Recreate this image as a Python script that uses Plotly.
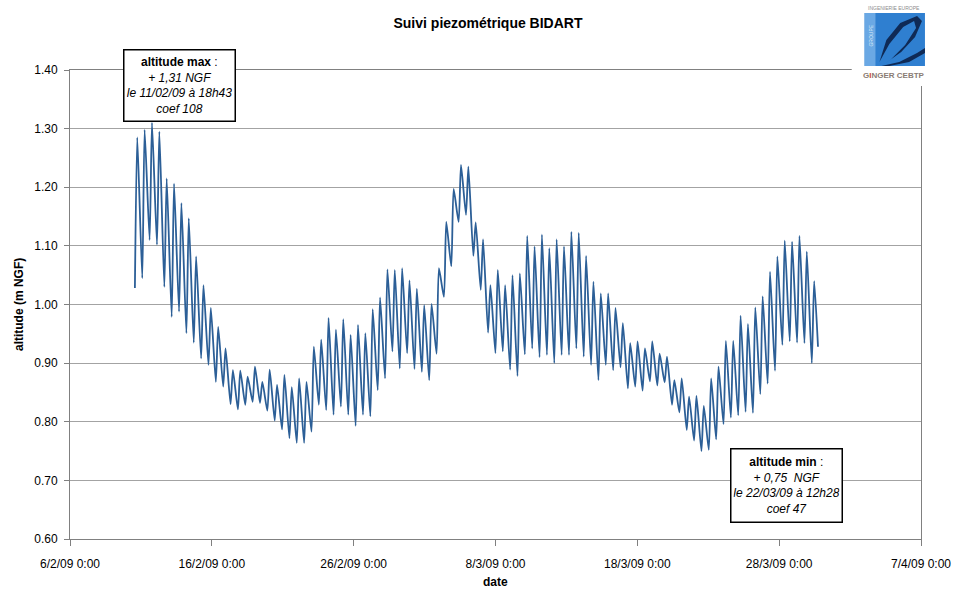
import datetime as dt
import plotly.graph_objects as go

# ---------------------------------------------------------------------------
# Piezometric record, Bidart (m NGF). One high and one low per tidal cycle.
# ---------------------------------------------------------------------------
highs = [
    1.285, 1.298, 1.310, 1.295, 1.215, 1.206, 1.173, 1.147, 1.082, 1.033,
    0.994, 0.962, 0.925, 0.888, 0.887, 0.877, 0.894, 0.868, 0.889, 0.863,
    0.880, 0.859, 0.874, 0.868, 0.928, 0.940, 0.977, 0.957, 0.975, 0.948,
    0.965, 0.951, 0.992, 1.012, 1.060, 1.059, 1.062, 1.041, 1.027, 0.999,
    1.001, 1.062, 1.141, 1.197, 1.238, 1.235, 1.140, 1.111, 1.033, 1.059,
    1.033, 1.050, 1.053, 1.117, 1.099, 1.119, 1.096, 1.111, 1.099, 1.124,
    1.122, 1.083, 1.039, 1.019, 1.019, 0.994, 0.968, 0.934, 0.937, 0.925,
    0.937, 0.916, 0.911, 0.871, 0.874, 0.843, 0.844, 0.827, 0.874, 0.894,
    0.938, 0.938, 0.981, 0.967, 0.995, 1.014, 1.056, 1.082, 1.109, 1.107,
    1.117, 1.090, 1.040,
]
# low preceding each high
lows = [
    1.028, 1.045, 1.110, 1.102, 1.030, 0.979, 0.988, 0.951, 0.935, 0.908,
    0.897, 0.868, 0.860, 0.830, 0.821, 0.829, 0.834, 0.832, 0.819, 0.802,
    0.787, 0.772, 0.764, 0.764, 0.783, 0.829, 0.820, 0.812, 0.826, 0.812,
    0.793, 0.812, 0.809, 0.854, 0.874, 0.920, 0.891, 0.917, 0.890, 0.885,
    0.871, 0.916, 1.013, 1.065, 1.141, 1.153, 1.083, 1.025, 0.952, 0.917,
    0.920, 0.889, 0.878, 0.915, 0.925, 0.910, 0.914, 0.900, 0.914, 0.914,
    0.925, 0.911, 0.897, 0.871, 0.897, 0.888, 0.893, 0.857, 0.860, 0.853,
    0.869, 0.862, 0.867, 0.829, 0.816, 0.786, 0.768, 0.750, 0.752, 0.770,
    0.796, 0.807, 0.811, 0.817, 0.815, 0.847, 0.865, 0.887, 0.931, 0.937,
    0.935, 0.934, 0.900,
]
last_value = 0.928

# timing of the cycles (anchored on the recorded maximum, cycle no. 2)
max_time = dt.datetime(2009, 2, 11, 18, 43)
max_cycle = 2
tide_period = dt.timedelta(hours=12.45)
rise_time = dt.timedelta(hours=4.0)
tail_time = dt.timedelta(hours=6.5)

x_ticks = [dt.datetime(2009, 2, 6), dt.datetime(2009, 2, 16), dt.datetime(2009, 2, 26),
           dt.datetime(2009, 3, 8), dt.datetime(2009, 3, 18), dt.datetime(2009, 3, 28),
           dt.datetime(2009, 4, 7)]
x_tick_text = ["6/2/09 0:00", "16/2/09 0:00", "26/2/09 0:00", "8/3/09 0:00",
               "18/3/09 0:00", "28/3/09 0:00", "7/4/09 0:00"]
y_ticks = [0.60, 0.70, 0.80, 0.90, 1.00, 1.10, 1.20, 1.30, 1.40]

# build the series: low then high for each cycle
times, levels = [], []
for i, (lo, hi) in enumerate(zip(lows, highs)):
    t_high = max_time + (i - max_cycle) * tide_period
    times += [t_high - rise_time, t_high]
    levels += [lo, hi]
times.append(times[-1] + tail_time)
levels.append(last_value)

W, H = 963, 589
L, R, T, B = 70, 33, 70, 50
PW, PH = W - L - R, H - T - B
FONT = "Arial, Liberation Sans, sans-serif"


def px(xp):
    return (xp - L) / PW


def py(yp):
    return (H - B - yp) / PH


fig = go.Figure()
fig.add_trace(go.Scatter(
    x=times, y=levels, mode="lines",
    line=dict(color="#2c5f97", width=1.8, shape="spline", smoothing=0.6),
    showlegend=False, hoverinfo="x+y",
))

fig.update_layout(
    width=W, height=H, autosize=False,
    margin=dict(l=L, r=R, t=T, b=B),
    paper_bgcolor="white", plot_bgcolor="white",
    font=dict(family=FONT, size=12, color="black"),
    title=dict(text="<b>Suivi piezométrique BIDART</b>", font=dict(size=14),
               x=488 / W, xref="container", xanchor="center",
               y=1 - 23 / H, yref="container", yanchor="middle"),
)
fig.update_xaxes(
    type="date", range=[x_ticks[0], x_ticks[-1]],
    tickmode="array", tickvals=x_ticks, ticktext=x_tick_text,
    showgrid=False, zeroline=False,
    showline=True, linecolor="#808080", linewidth=1, mirror=True,
    ticks="outside", ticklen=6, tickcolor="#808080",
    ticklabelstandoff=8, tickfont=dict(size=12),
)
fig.update_yaxes(
    range=[y_ticks[0], y_ticks[-1]], tickmode="array", tickvals=y_ticks,
    tickformat=".2f",
    showgrid=True, gridcolor="#a3a3a3", gridwidth=1, zeroline=False,
    showline=True, linecolor="#808080", linewidth=1, mirror=True,
    ticks="outside", ticklen=5, tickcolor="#808080",
    ticklabelstandoff=4, tickfont=dict(size=12),
)

annotations = [
    dict(text="<b>altitude (m NGF)</b>", x=px(18), y=0.5, textangle=-90,
         font=dict(size=12)),
    dict(text="<b>date</b>", x=0.5, y=py(582), font=dict(size=12)),
    dict(text="<b>altitude max</b> :<br><i>+ 1,31 NGF</i><br><i>le 11/02/09 à 18h43</i><br><i>coef 108</i>",
         x=px(181), y=py(86), width=106, height=66, borderpad=2,
         bordercolor="black", borderwidth=1.5, bgcolor="white",
         font=dict(size=12)),
    dict(text="<b>altitude min</b> :<br><i>+ 0,75  NGF</i><br><i>le 22/03/09 à 12h28</i><br><i>coef 47</i>",
         x=px(794), y=py(485), width=106, height=68, borderpad=2,
         bordercolor="black", borderwidth=1.5, bgcolor="white",
         font=dict(size=12)),
    # company logo lettering
    dict(text="INGENIERIE EUROPE", x=px(903), y=py(8), font=dict(size=5, color="#8c8c8c")),
    dict(text="GROUPE", x=px(879), y=py(36), textangle=-90, font=dict(size=5, color="#d8e8f8")),
    dict(text="<b>G<span style='color:#d0502a'>I</span>NGER CEBTP</b>", x=px(903), y=py(75),
         font=dict(size=8, color="#8a7c74")),
]
for a in annotations:
    a.setdefault("xref", "paper")
    a.setdefault("yref", "paper")
    a.setdefault("showarrow", False)
    a.setdefault("xanchor", "center")
    a.setdefault("yanchor", "middle")
fig.update_layout(annotations=annotations)


def rect(x0, y0, x1, y1, **kw):
    return dict(type="rect", xref="paper", yref="paper", layer="above",
                x0=px(x0), x1=px(x1), y0=py(y1), y1=py(y0), **kw)


def path(points, **kw):
    d = "M " + " L ".join(f"{px(a):.5f},{py(b):.5f}" for a, b in points) + " Z"
    return dict(type="path", xref="paper", yref="paper", layer="above", path=d, **kw)


shapes = [
    rect(860, 0, 952, 86, fillcolor="white", line=dict(width=0)),
    rect(873, 13, 934, 66, fillcolor="#2f7fd0", line=dict(width=0)),
    rect(873, 13, 884, 66, fillcolor="#6aa8e4", line=dict(width=0)),
    path([(888, 62), (895, 40), (909, 23), (926, 16), (931, 21), (924, 37),
          (910, 52), (893, 64), (900, 59), (914, 45), (925, 28), (923, 21),
          (912, 27), (898, 44)], fillcolor="#0f2a56", line=dict(width=0)),
    path([(890, 66), (908, 62), (926, 53), (934, 48), (934, 53), (918, 62), (898, 66)],
         fillcolor="#0f2a56", line=dict(width=0)),
]
fig.update_layout(shapes=shapes)

fig.write_html("out.html")
